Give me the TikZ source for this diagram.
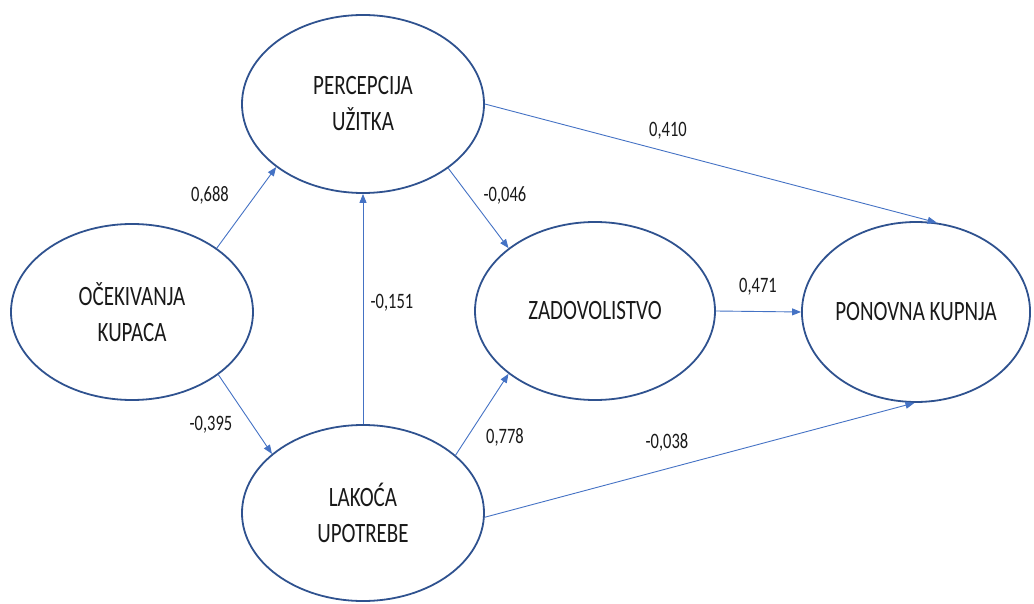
\documentclass[tikz,border=0pt]{standalone}
\usepackage{fontspec}
\setmainfont[FakeStretch=0.75]{Carlito}
\usetikzlibrary{arrows.meta,shapes.geometric}
\definecolor{ellblue}{HTML}{2F528F}
\definecolor{arrblue}{HTML}{4472C4}
\begin{document}
\begin{tikzpicture}[x=1pt,y=-1pt,
  latent/.style={ellipse, draw=ellblue, line width=1.8pt, inner sep=0pt, align=center,
    font=\fontsize{28}{36}\selectfont, text=black!90},
  conn/.style={draw=arrblue, line width=0.9pt, -{Triangle[length=9pt,width=7pt]}},
  coef/.style={font=\fontsize{22}{26}\selectfont, text=black!90, inner sep=0pt}]
\useasboundingbox (0,0) rectangle (1034,604);
\node[latent, minimum width=242pt, minimum height=176pt] (oce) at (132,312) {OČEKIVANJA\\KUPACA};
\node[latent, minimum width=242pt, minimum height=178pt] (per) at (363,104) {PERCEPCIJA\\UŽITKA};
\node[latent, minimum width=242pt, minimum height=176pt] (lak) at (363,513) {LAKOĆA\\UPOTREBE};
\node[latent, minimum width=240pt, minimum height=178pt] (zad) at (595,311) {ZADOVOLISTVO};
\node[latent, minimum width=228pt, minimum height=180pt] (pon) at (916,312) {PONOVNA KUPNJA};

\draw[conn] (oce.37) -- (per.216);
\draw[conn] (oce.-36.5) -- (lak.147);
\draw[conn] (lak.90) -- (per.270);
\draw[conn] (per.-37) -- (zad.144);
\draw[conn] (per.0) -- (pon.77);
\draw[conn] (lak.32) -- (zad.216);
\draw[conn] (lak.-2) -- (pon.269);
\draw[conn] (zad.0) -- (pon.180);

\node[coef] (c1) at (210,195) {0,688};
\node[coef] (c2) at (211,425) {-0,395};
\node[coef] (c3) at (392,303) {-0,151};
\node[coef] (c4) at (505,195) {-0,046};
\node[coef] (c5) at (668,131) {0,410};
\node[coef] (c6) at (758,287) {0,471};
\node[coef] (c7) at (505,437) {0,778};
\node[coef] (c8) at (667,442) {-0,038};
\end{tikzpicture}
\end{document}
